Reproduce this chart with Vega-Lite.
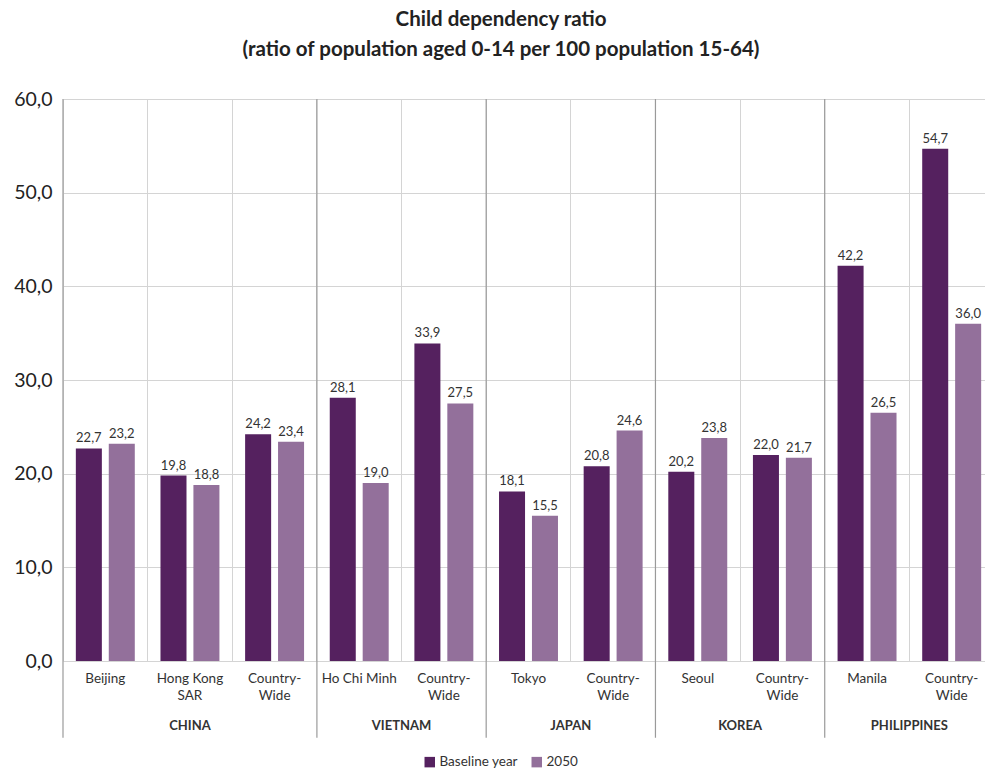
{
  "$schema": "https://vega.github.io/schema/vega-lite/v6.json",
  "autosize": {"type": "none"},
  "width": 922,
  "height": 562,
  "padding": {"left": 63, "top": 99, "right": 0, "bottom": 109},
  "config": {
    "font": "Lato",
    "view": {"stroke": null},
    "locale": {"number": {"decimal": ",", "thousands": ".", "grouping": [3], "currency": ["", ""]}}
  },
  "title": {
    "text": ["Child dependency ratio", "(ratio of population aged 0-14 per 100 population 15-64)"],
    "fontSize": 20.5,
    "fontWeight": "bold",
    "color": "#222222",
    "lineHeight": 30,
    "anchor": "middle",
    "dx": -23,
    "offset": 29
  },
  "datasets": {
    "bars": [
      {"key": "CHINA:Beijing", "series": "Baseline year", "value": 22.7},
      {"key": "CHINA:Beijing", "series": "2050", "value": 23.2},
      {"key": "CHINA:Hong Kong~SAR", "series": "Baseline year", "value": 19.8},
      {"key": "CHINA:Hong Kong~SAR", "series": "2050", "value": 18.8},
      {"key": "CHINA:Country-~Wide", "series": "Baseline year", "value": 24.2},
      {"key": "CHINA:Country-~Wide", "series": "2050", "value": 23.4},
      {"key": "VIETNAM:Ho Chi Minh", "series": "Baseline year", "value": 28.1},
      {"key": "VIETNAM:Ho Chi Minh", "series": "2050", "value": 19.0},
      {"key": "VIETNAM:Country-~Wide", "series": "Baseline year", "value": 33.9},
      {"key": "VIETNAM:Country-~Wide", "series": "2050", "value": 27.5},
      {"key": "JAPAN:Tokyo", "series": "Baseline year", "value": 18.1},
      {"key": "JAPAN:Tokyo", "series": "2050", "value": 15.5},
      {"key": "JAPAN:Country-~Wide", "series": "Baseline year", "value": 20.8},
      {"key": "JAPAN:Country-~Wide", "series": "2050", "value": 24.6},
      {"key": "KOREA:Seoul", "series": "Baseline year", "value": 20.2},
      {"key": "KOREA:Seoul", "series": "2050", "value": 23.8},
      {"key": "KOREA:Country-~Wide", "series": "Baseline year", "value": 22.0},
      {"key": "KOREA:Country-~Wide", "series": "2050", "value": 21.7},
      {"key": "PHILIPPINES:Manila", "series": "Baseline year", "value": 42.2},
      {"key": "PHILIPPINES:Manila", "series": "2050", "value": 26.5},
      {"key": "PHILIPPINES:Country-~Wide", "series": "Baseline year", "value": 54.7},
      {"key": "PHILIPPINES:Country-~Wide", "series": "2050", "value": 36.0}
    ],
    "groups": [
      {"pos": 0, "country": null},
      {"pos": 3, "country": null},
      {"pos": 5, "country": null},
      {"pos": 7, "country": null},
      {"pos": 9, "country": null},
      {"pos": 11, "country": null},
      {"pos": 1.5, "country": "CHINA"},
      {"pos": 4, "country": "VIETNAM"},
      {"pos": 6, "country": "JAPAN"},
      {"pos": 8, "country": "KOREA"},
      {"pos": 10, "country": "PHILIPPINES"}
    ]
  },
  "layer": [
    {
      "data": {"name": "bars"},
      "encoding": {
        "x": {
          "field": "key", "type": "nominal", "sort": null,
          "scale": {"range": [0, 931], "paddingInner": 0, "paddingOuter": 0},
          "axis": {
            "title": null, "orient": "bottom", "domain": false, "ticks": false,
            "grid": true, "gridColor": "#d4d4d4", "bandPosition": 0,
            "labelAngle": 0, "labelFontSize": 13.5, "labelColor": "#333333",
            "labelPadding": 10, "labelLineHeight": 17,
            "labelExpr": "split(split(datum.value, ':')[1], '~')"
          }
        },
        "xOffset": {
          "field": "series", "type": "nominal", "sort": ["Baseline year", "2050"],
          "scale": {"paddingInner": 0.21, "paddingOuter": 0.39}
        },
        "y": {
          "field": "value", "type": "quantitative",
          "scale": {"domain": [0, 60], "nice": false},
          "axis": {
            "title": null, "values": [0, 10, 20, 30, 40, 50, 60], "format": ".1f",
            "domain": false, "ticks": false, "gridColor": "#d4d4d4",
            "labelFontSize": 19.5, "labelColor": "#222222", "labelPadding": 11
          }
        }
      },
      "layer": [
        {
          "mark": {"type": "bar"},
          "encoding": {
            "color": {
              "field": "series", "type": "nominal", "sort": ["Baseline year", "2050"],
              "scale": {"domain": ["Baseline year", "2050"], "range": ["#55215f", "#93709b"]},
              "legend": {
                "title": null, "orient": "none", "direction": "horizontal",
                "legendX": 360, "legendY": 656, "symbolType": "square", "symbolSize": 110,
                "symbolStrokeWidth": 0, "labelFontSize": 13.5, "labelColor": "#333333",
                "columnPadding": 12, "labelOffset": 3
              }
            }
          }
        },
        {
          "mark": {"type": "text", "baseline": "alphabetic", "dy": -6, "fontSize": 13, "color": "#333333"},
          "encoding": {
            "text": {"field": "value", "type": "quantitative", "format": ".1f"}
          }
        }
      ]
    },
    {
      "data": {"name": "groups"},
      "encoding": {
        "x": {"field": "pos", "type": "quantitative", "scale": {"domain": [0, 11], "range": [0, 931], "nice": false, "zero": false}, "axis": null}
      },
      "layer": [
        {
          "transform": [{"filter": "datum.country == null"}],
          "mark": {"type": "rule", "color": "#9a9a9a", "strokeWidth": 1.2},
          "encoding": {
            "y": {"datum": 60},
            "y2": {"datum": -8.2}
          }
        },
        {
          "transform": [{"filter": "datum.country != null"}],
          "mark": {"type": "text", "fontSize": 13, "fontWeight": "bold", "color": "#333333", "baseline": "middle"},
          "encoding": {
            "y": {"datum": -6.95},
            "text": {"field": "country", "type": "nominal"}
          }
        }
      ]
    }
  ],
  "resolve": {"scale": {"x": "independent"}, "axis": {"x": "independent"}}
}
